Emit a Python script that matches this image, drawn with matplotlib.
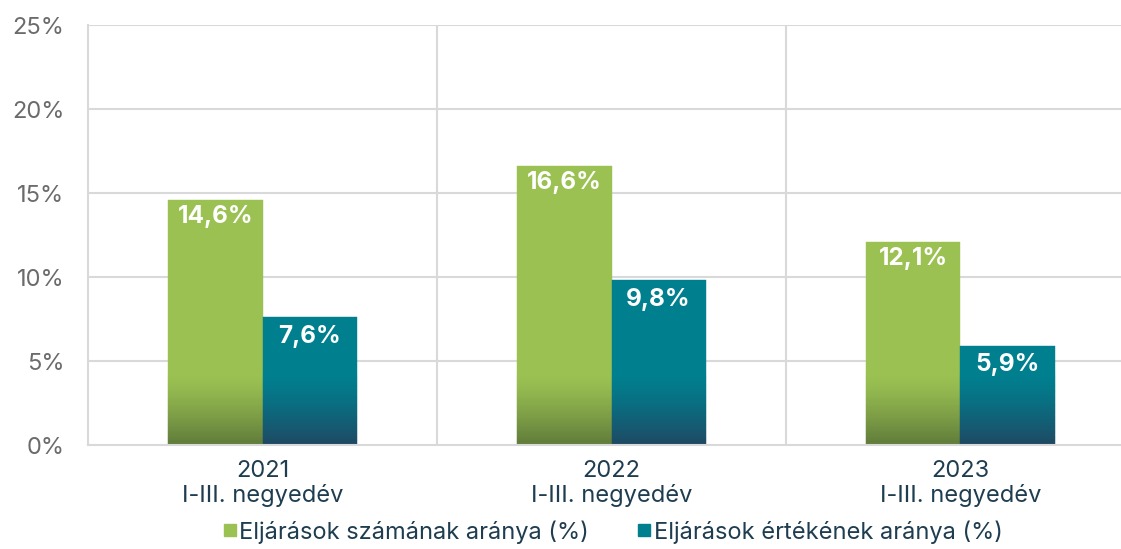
import matplotlib.pyplot as plt
import numpy as np
from matplotlib.colors import to_rgb
from matplotlib.lines import Line2D

plt.rcParams['font.family'] = ['Inter', 'DejaVu Sans']

years = ['2021', '2022', '2023']
period = 'I-III. negyedév'
szam = [14.6, 16.6, 12.1]
ertek = [7.6, 9.8, 5.9]
series_names = ['Eljárások számának aránya (%)', 'Eljárások értékének aránya (%)']

green, green_dark = '#9bc152', '#5f7a3a'
teal, teal_dark = '#007f8f', '#1f4862'
grid_col = '#d9d9d9'
text_col = '#1f3d50'

fig = plt.figure(figsize=(11.21, 5.49), dpi=100)
ax = fig.add_axes([88 / 1121, 1 - 445 / 549, 1033 / 1121, 420 / 549])

for y in range(5, 26, 5):
    ax.axhline(y, color=grid_col, lw=1.5, zorder=0)
for x in [0.5, 1.5]:
    ax.axvline(x, color=grid_col, lw=1.5, zorder=0)

w = 0.27
x = np.arange(len(years))


def grad_bar(xc, h, top, bottom):
    # solid bar, then a stack of thin slices darkening toward the base
    gh = min(h, 4.2)
    c0, c1 = np.array(to_rgb(bottom)), np.array(to_rgb(top))
    ax.bar(xc, h - gh, bottom=gh, width=w, color=c1, edgecolor=c1, lw=0.3, zorder=2)
    n = 60
    edges = np.linspace(0, gh, n + 1)
    for k in range(n):
        t = (k + 0.5) / n
        t = 1 - (1 - t) ** 1.3
        c = c0 + (c1 - c0) * t
        ax.bar(xc, edges[k + 1] - edges[k], bottom=edges[k], width=w,
               color=c, edgecolor=c, lw=0.3, zorder=2)


for i in range(len(years)):
    grad_bar(x[i] - w / 2, szam[i], green, green_dark)
    grad_bar(x[i] + w / 2, ertek[i], teal, teal_dark)
    ax.text(x[i] - w / 2, szam[i] - 0.98, f'{szam[i]:.1f}%'.replace('.', ','),
            ha='center', va='center', color='white', fontsize=17.5, fontweight='bold', zorder=4)
    ax.text(x[i] + w / 2, ertek[i] - 1.12, f'{ertek[i]:.1f}%'.replace('.', ','),
            ha='center', va='center', color='white', fontsize=17.5, fontweight='bold', zorder=4)

ax.set_xlim(-0.5, -0.5 + 1033 / 349)
ax.set_ylim(0, 25)

for s in ['top', 'right']:
    ax.spines[s].set_visible(False)
for s in ['left', 'bottom']:
    ax.spines[s].set_color(grid_col)
    ax.spines[s].set_linewidth(1.5)

ax.set_yticks(range(0, 26, 5))
ax.set_yticklabels([f'{v}%' for v in range(0, 26, 5)])
ax.tick_params(axis='y', length=0, pad=17, labelsize=17, labelcolor='#6b6b6b')
ax.set_xticks(x)
ax.set_xticklabels([f'{y}\n{period}' for y in years], linespacing=1.12)
ax.tick_params(axis='x', length=0, pad=11, labelsize=17, labelcolor=text_col)

handles = [Line2D([], [], marker='s', ls='', color=green, markersize=9),
           Line2D([], [], marker='s', ls='', color=teal, markersize=9)]
fig.legend(handles, series_names, loc='center', bbox_to_anchor=(612 / 1121, 1 - 532 / 549),
           ncol=2, frameon=False, fontsize=17, handletextpad=0.05, columnspacing=2.0,
           labelcolor=text_col, handlelength=0.7, borderpad=0)

fig.savefig('out.png', dpi=100)
